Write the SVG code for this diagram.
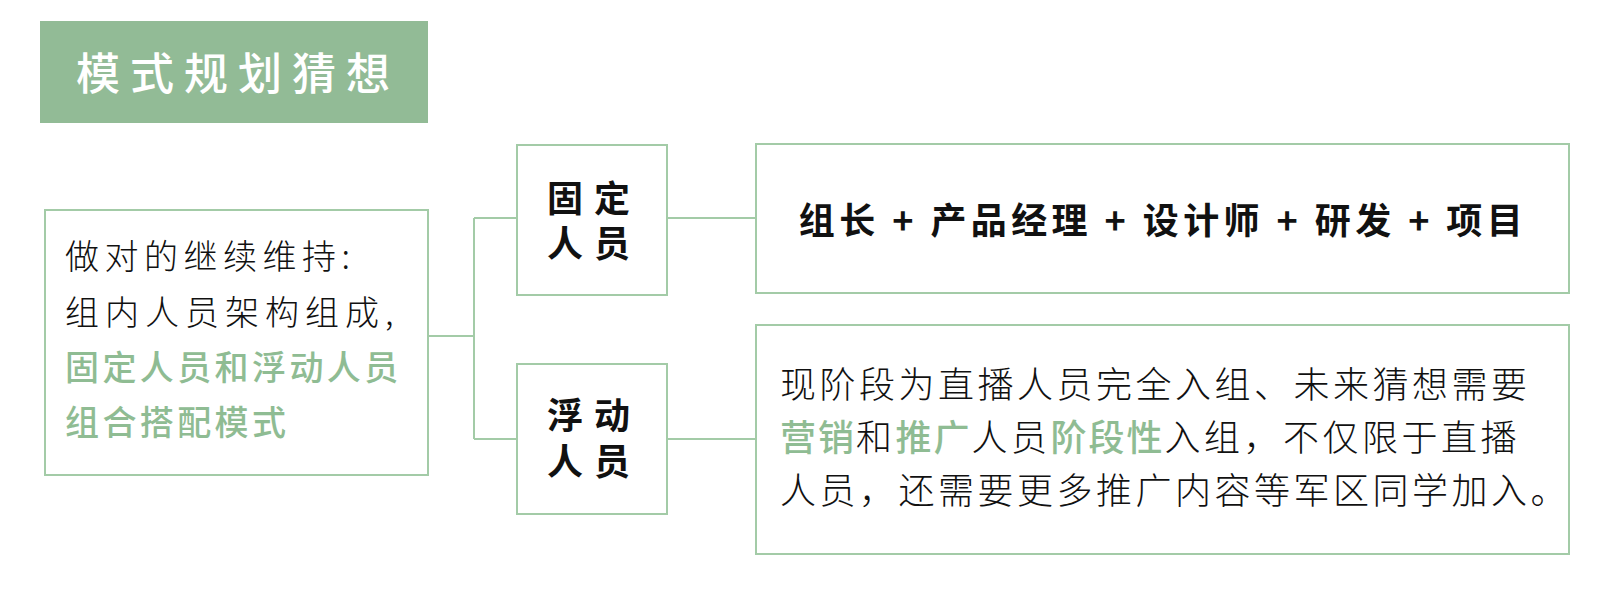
<svg xmlns="http://www.w3.org/2000/svg" width="1601" height="600" viewBox="0 0 1601 600">
<style>
  .box { fill: #ffffff; stroke: #a3cba7; stroke-width: 2; }
  .conn { fill: none; stroke: #a3cba7; stroke-width: 2; }
  .t { font-family: "Noto Sans CJK SC", "Noto Sans", sans-serif; }
  .light { font-weight: 300; fill: #111111; }
  .green { font-weight: 500; fill: #8fbc93; }
  .bold { font-weight: 700; fill: #111111; }
</style>
<rect width="1601" height="600" fill="#ffffff"/>

<g id="title">
  <rect x="40" y="21" width="388" height="102" fill="#92bb96"/>
  <text class="t" x="238" y="90" font-size="44" font-weight="500" fill="#ffffff" text-anchor="middle" letter-spacing="10">模式规划猜想</text>
</g>

<g id="connectors">
  <path class="conn" d="M428 336 H474 M474 218 V439 M474 218 H517 M474 439 H517 M667 218 H756 M667 439 H756"/>
</g>

<g id="node-main">
  <rect class="box" x="45" y="210" width="383" height="265"/>
  <text class="t light" font-size="34" letter-spacing="5.5" x="65" y="269">做对的继续维持:</text>
  <text class="t light" font-size="34" letter-spacing="6" x="65" y="325">组内人员架构组成,</text>
  <text class="t green" font-size="34" letter-spacing="3.4" x="65" y="380">固定人员和浮动人员</text>
  <text class="t green" font-size="34" letter-spacing="3.4" x="65" y="435">组合搭配模式</text>
</g>

<g id="node-fixed">
  <rect class="box" x="517" y="145" width="150" height="150"/>
  <text class="t bold" font-size="36" letter-spacing="11" x="594" y="212" text-anchor="middle">固定</text>
  <text class="t bold" font-size="36" letter-spacing="11" x="594" y="257" text-anchor="middle">人员</text>
</g>

<g id="node-float">
  <rect class="box" x="517" y="364" width="150" height="150"/>
  <text class="t bold" font-size="36" letter-spacing="11" x="594" y="429" text-anchor="middle">浮动</text>
  <text class="t bold" font-size="36" letter-spacing="11" x="594" y="475" text-anchor="middle">人员</text>
</g>

<g id="node-fixed-detail">
  <rect class="box" x="756" y="144" width="813" height="149"/>
  <text class="t bold" font-size="36" letter-spacing="4.4" x="1163" y="234" text-anchor="middle">组长 + 产品经理 + 设计师 + 研发 + 项目</text>
</g>

<g id="node-float-detail">
  <rect class="box" x="756" y="325" width="813" height="229"/>
  <text class="t light" font-size="36" letter-spacing="3.5" x="780" y="398">现阶段为直播人员完全入组、未来猜想需要</text>
  <text class="t light" font-size="36" letter-spacing="3.5" x="780" y="451"><tspan class="green" letter-spacing="2">营销</tspan>和<tspan class="green" letter-spacing="2">推广</tspan>人员<tspan class="green" letter-spacing="2">阶段性</tspan>入组，不仅限于直播</text>
  <text class="t light" font-size="36" letter-spacing="3.5" x="780" y="504">人员，还需要更多推广内容等军区同学加入。</text>
</g>
</svg>
